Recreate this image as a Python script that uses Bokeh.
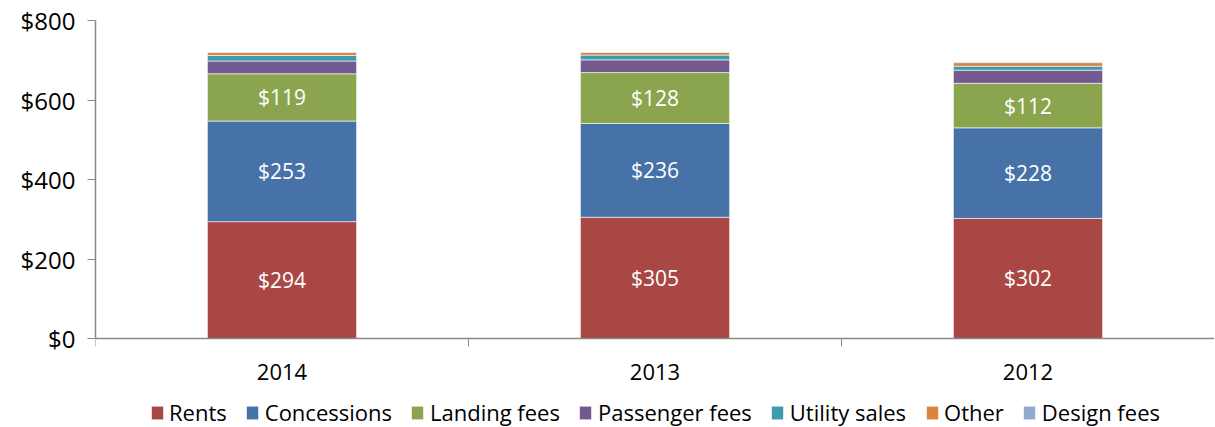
from bokeh.plotting import figure
from bokeh.models import (ColumnDataSource, FixedTicker, Legend, LegendItem,
                          LabelSet, NumeralTickFormatter, Range1d)
from bokeh.embed import file_html
from bokeh.resources import INLINE
from bokeh.core.properties import value

years = ["2014", "2013", "2012"]
series = ["Rents", "Concessions", "Landing fees", "Passenger fees",
          "Utility sales", "Other", "Design fees"]
rents = [294, 305, 302]
concessions = [253, 236, 228]
landing_fees = [119, 128, 112]
passenger_fees = [32, 32, 33]
utility_sales = [14, 12, 10]
other = [8, 7, 9]
design_fees = [1, 1, 1.5]
colors = ["#A94744", "#4672A8", "#8BA54E", "#725A8F", "#3F9AAE", "#DB843D", "#93A9CF"]
y_ticks = [0, 200, 400, 600, 800]

values = [rents, concessions, landing_fees, passenger_fees, utility_sales, other, design_fees]
xpos = [i + 0.5 for i in range(len(years))]
data = {"x": xpos}
for name, v in zip(series, values):
    data[name] = v
src = ColumnDataSource(data)

FONT = "Open Sans"

# plot area: value axis 0..800 spans 318px; frame extends below to host the legend
FRAME_H = 407
Y_MAX = 800
Y_MIN = Y_MAX - FRAME_H * Y_MAX / 318.0

p = figure(frame_width=1119, frame_height=FRAME_H, output_backend="svg", toolbar_location=None,
           x_range=Range1d(0, len(years)), y_range=Range1d(Y_MIN, Y_MAX),
           min_border_left=95, min_border_top=20, min_border_right=0, min_border_bottom=0)
p.outline_line_color = None
p.xgrid.grid_line_color = None
p.ygrid.grid_line_color = None

rs = p.vbar_stack(series, x="x", width=0.4, source=src, color=colors,
                  line_color="white", line_width=0.6)

# labels for first three series
label_x, label_y, label_t = [], [], []
for i in range(len(years)):
    base = 0
    for v in values[:3]:
        label_x.append(xpos[i])
        label_y.append(base + v[i] / 2)
        label_t.append("$%d" % v[i])
        base += v[i]
lsrc = ColumnDataSource(dict(x=label_x, y=label_y, t=label_t))
p.add_layout(LabelSet(x="x", y="y", text="t", source=lsrc, text_color="white",
                      text_align="center", text_baseline="middle",
                      text_font=value(FONT), text_font_size="21px"))

# axes
ax = p.xaxis[0]
ax.fixed_location = 0
ax.ticker = FixedTicker(ticks=xpos, minor_ticks=list(range(len(years) + 1)))
ax.major_label_overrides = {x: y for x, y in zip(xpos, years)}
ax.major_tick_line_color = None
ax.minor_tick_line_color = "#898989"
ax.minor_tick_out = 8
ax.minor_tick_in = 0
ax.axis_line_color = "#898989"
ax.axis_line_width = 1.5
ax.major_label_text_font = FONT
ax.major_label_text_font_size = "22px"
ax.major_label_text_color = "#000000"
ax.major_label_standoff = 17

ay = p.yaxis[0]
ay.bounds = (0, Y_MAX)
ay.ticker = FixedTicker(ticks=y_ticks)
ay.formatter = NumeralTickFormatter(format="$0")
ay.minor_tick_line_color = None
ay.major_tick_line_color = "#898989"
ay.major_tick_out = 8
ay.major_tick_in = 0
ay.axis_line_color = "#898989"
ay.axis_line_width = 1.5
ay.major_label_text_font = FONT
ay.major_label_text_font_size = "24px"
ay.major_label_text_color = "#000000"
ay.major_label_standoff = 12

legend = Legend(items=[LegendItem(label=n, renderers=[r]) for n, r in zip(series, rs)],
                orientation="horizontal", location="bottom_center",
                label_text_font=FONT, label_text_font_size="22px",
                label_text_color="#000000", label_height=20,
                glyph_width=15, glyph_height=17, spacing=18, label_standoff=5,
                border_line_color=None, background_fill_alpha=0, margin=0,
                padding=0)
p.add_layout(legend)

open("out.html", "w").write(file_html(p, INLINE))
